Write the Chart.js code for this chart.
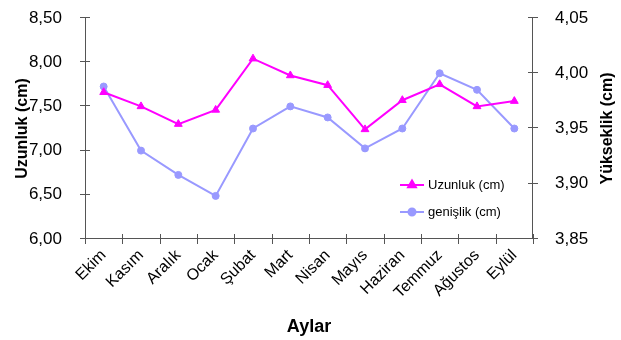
<!DOCTYPE html>
<html>
<head>
<meta charset="utf-8">
<script src="https://cdn.jsdelivr.net/npm/chart.js@4/dist/chart.umd.min.js"></script>
<style>
  body { margin: 0; background: #fff; }
  #wrap { width: 621px; height: 340px; }
</style>
</head>
<body>
<div id="wrap"><canvas id="c" width="621" height="340"></canvas></div>
<script>
const months = ['Ekim', 'Kasım', 'Aralık', 'Ocak', 'Şubat', 'Mart', 'Nisan', 'Mayıs', 'Haziran', 'Temmuz', 'Ağustos', 'Eylül'];
const uzunluk = [7.66, 7.50, 7.30, 7.46, 8.04, 7.85, 7.74, 7.24, 7.57, 7.75, 7.50, 7.56];
const genislik = [3.988, 3.930, 3.908, 3.889, 3.950, 3.970, 3.960, 3.932, 3.950, 4.000, 3.985, 3.950];
const leftTicks = [6.0, 6.5, 7.0, 7.5, 8.0, 8.5];
const rightTicks = [3.85, 3.90, 3.95, 4.00, 4.05];

const FONT = 'Liberation Sans, Arial, sans-serif';
const AXIS = '#555555';
const MAGENTA = '#ff00ff';
const BLUE = '#9999ff';

const fmt = (v) => v.toFixed(2).replace('.', ',');

// the label padding would otherwise push the plot top down
const fixY = (width) => (s) => {
    s.width = width;
    s.paddingTop = 0;
    s.paddingBottom = 0;
};

// axes drawn by hand so the tick marks cross the axis lines like the original
const axesPlugin = {
    id: 'crossAxes',
    beforeDatasetsDraw(chart) {
        const { ctx, chartArea: a } = chart;
        const yl = chart.scales.y;
        const yr = chart.scales.y1;
        ctx.save();
        ctx.strokeStyle = AXIS;
        ctx.lineWidth = 1;
        ctx.beginPath();
        ctx.moveTo(a.left + 0.5, a.top);
        ctx.lineTo(a.left + 0.5, a.bottom);
        ctx.moveTo(a.right - 0.5, a.top);
        ctx.lineTo(a.right - 0.5, a.bottom);
        ctx.moveTo(a.left, a.bottom - 0.5);
        ctx.lineTo(a.right, a.bottom - 0.5);
        leftTicks.forEach((v) => {
            const y = Math.round(yl.getPixelForValue(v)) - 0.5;
            ctx.moveTo(a.left - 5, y);
            ctx.lineTo(a.left + 5, y);
        });
        rightTicks.forEach((v) => {
            const y = Math.round(yr.getPixelForValue(v)) - 0.5;
            ctx.moveTo(a.right - 5, y);
            ctx.lineTo(a.right + 5, y);
        });
        const step = (a.right - a.left) / months.length;
        for (let i = 0; i <= months.length; i++) {
            const x = Math.round(a.left + i * step) + 0.5;
            ctx.moveTo(x, a.bottom - 5);
            ctx.lineTo(x, a.bottom + 5);
        }
        ctx.stroke();
        ctx.restore();
    },
    afterDraw(chart) {
        const { ctx, chartArea: a } = chart;
        ctx.save();
        // right axis title, reading upwards
        ctx.font = 'bold 16px ' + FONT;
        ctx.fillStyle = '#000';
        ctx.textAlign = 'center';
        ctx.textBaseline = 'middle';
        ctx.translate(608, (a.top + a.bottom) / 2);
        ctx.rotate(-Math.PI / 2);
        ctx.fillText('Yükseklik (cm)', 0, 0);
        ctx.restore();

        // legend inside the plot
        const rows = [
            { label: 'Uzunluk (cm)', color: MAGENTA, style: 'triangle', r: 4.5, y: 185 },
            { label: 'genişlik (cm)', color: BLUE, style: 'circle', r: 3.5, y: 212 },
        ];
        ctx.save();
        rows.forEach((row) => {
            ctx.strokeStyle = row.color;
            ctx.lineWidth = 2;
            ctx.beginPath();
            ctx.moveTo(400, row.y);
            ctx.lineTo(424, row.y);
            ctx.stroke();
            ctx.fillStyle = row.color;
            Chart.helpers.drawPoint(ctx, { pointStyle: row.style, radius: row.r, borderWidth: 1 }, 412, row.y);
            ctx.fill();
            ctx.fillStyle = '#000';
            ctx.font = '13px ' + FONT;
            ctx.textAlign = 'left';
            ctx.textBaseline = 'middle';
            ctx.fillText(row.label, 428, row.y);
        });
        ctx.restore();
    },
};

new Chart(document.getElementById('c'), {
    type: 'line',
    data: {
        labels: months,
        datasets: [
            {
                label: 'Uzunluk (cm)',
                data: uzunluk,
                yAxisID: 'y',
                borderColor: MAGENTA,
                backgroundColor: MAGENTA,
                borderWidth: 2,
                pointStyle: 'triangle',
                pointRadius: 4.5,
                pointBorderWidth: 1,
                tension: 0,
            },
            {
                label: 'genişlik (cm)',
                data: genislik,
                yAxisID: 'y1',
                borderColor: BLUE,
                backgroundColor: BLUE,
                borderWidth: 2,
                pointStyle: 'circle',
                pointRadius: 3.5,
                pointBorderWidth: 1,
                tension: 0,
            },
        ],
    },
    options: {
        responsive: false,
        animation: false,
        devicePixelRatio: 1,
        layout: { padding: { top: 18, left: 0, right: 0, bottom: 0 } },
        plugins: {
            legend: { display: false },
            tooltip: { enabled: false },
        },
        scales: {
            x: {
                offset: true,
                grid: { display: false },
                border: { display: false },
                ticks: {
                    color: '#000',
                    font: { family: FONT, size: 16 },
                    minRotation: 45,
                    maxRotation: 45,
                    padding: -1,
                    autoSkip: false,
                },
                title: {
                    display: true,
                    text: 'Aylar',
                    color: '#000',
                    font: { family: FONT, size: 18, weight: 'bold' },
                    padding: { top: 0, bottom: 2 },
                },
                afterFit: (s) => { s.height = 101; },
            },
            y: {
                position: 'left',
                min: 6,
                max: 8.5,
                grid: { display: false },
                border: { display: false },
                afterBuildTicks: (s) => { s.ticks = leftTicks.map((v) => ({ value: v })); },
                ticks: {
                    color: '#000',
                    font: { family: FONT, size: 17 },
                    padding: 15,
                    callback: (v) => fmt(v),
                },
                title: {
                    display: true,
                    text: 'Uzunluk (cm)',
                    color: '#000',
                    font: { family: FONT, size: 16, weight: 'bold' },
                    padding: { top: 13, bottom: 0 },
                },
                afterFit: fixY(85),
            },
            y1: {
                position: 'right',
                min: 3.85,
                max: 4.05,
                grid: { display: false },
                border: { display: false },
                afterBuildTicks: (s) => { s.ticks = rightTicks.map((v) => ({ value: v })); },
                ticks: {
                    color: '#000',
                    font: { family: FONT, size: 17 },
                    padding: 14,
                    callback: (v) => fmt(v),
                },
                afterFit: fixY(88),
            },
        },
    },
    plugins: [axesPlugin],
});
</script>
</body>
</html>
